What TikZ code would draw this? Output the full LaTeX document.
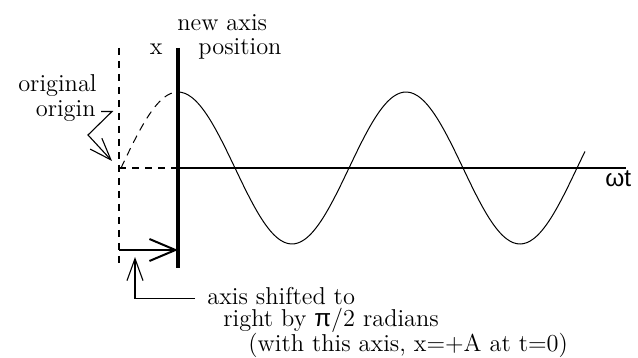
\documentclass[tikz,border=0pt]{standalone}
\usepackage{fontspec}
\usepackage{tikz}
\usetikzlibrary{arrows.meta,calc}
\newfontfamily\symfont{Liberation Sans}

\begin{document}
\begin{tikzpicture}[
  x=0.5pt,y=-0.5pt,
  lbl/.style={font=\fontsize{12.2}{14}\selectfont,inner sep=0pt},
  newaxis/.style={line width=2.3pt},
  oldaxis/.style={line width=0.6pt,dash pattern=on 3.5pt off 3pt},
  timeaxis/.style={line width=1.4pt},
  wave/.style={line width=0.5pt,domain=#1,samples=120,smooth},
  shiftarrow/.style={-{Straight Barb[length=13pt,width=11pt]},line width=1pt},
  callout/.style={-{Straight Barb[length=11pt,width=8pt]},line width=0.55pt}
]
\useasboundingbox (0,0) rectangle (638,358);

\coordinate (axtop) at (178,48);
\coordinate (axbot) at (178,268);
\coordinate (origO) at (178,168);
\coordinate (wtend) at (626,168);
\coordinate (oldtop) at (119,48);
\coordinate (oldbot) at (119,268);
\coordinate (oldO) at (119,168);
\coordinate (shiftfrom) at (119,250);
\coordinate (shiftto) at (178,250);
\coordinate (bendA) at (88,135);
\coordinate (tipA) at (112,161);
\coordinate (tipB) at (135,257);

\node[lbl,anchor=base west] (newaxis) at (177,31) {new axis};
\node[lbl,anchor=base west] (position) at (198,55) {position};
\node[lbl,anchor=base east] (xlbl) at (163,55) {x};
\node[lbl,anchor=base east] (original) at (97,92) {original};
\node[lbl,anchor=base east] (origin) at (96,117) {origin};
\node[lbl,anchor=base west] (wt) at (605,187) {\symfont ωt};
\node[lbl,anchor=base west] (shiftA) at (207,305) {axis shifted to};
\node[lbl,anchor=base west] (shiftB) at (223,327) {right by {\symfont π}/2 radians};
\node[lbl,anchor=base west] (shiftC) at (248,351) {(with this axis, x=+A at t=0)};

\draw[oldaxis] (oldtop) -- (oldbot);
\draw[oldaxis] (oldO) -- (origO);
\draw[timeaxis] (origO) -- (wtend);
\draw[newaxis] (axtop) -- (axbot);

\draw[wave=121:178,dash pattern=on 4pt off 3pt] plot (\x,{168-76*cos(1.578947*(\x-178))});
\draw[wave=178:585] plot (\x,{168-76*cos(1.578947*(\x-178))});

\draw[shiftarrow] (shiftfrom) -- (shiftto);
\draw[callout] ([xshift=2.5pt]origin.east) -- ++(11,0) -- (bendA) -- (tipA);
\draw[callout] ([xshift=-6pt,yshift=-1pt]shiftA.west) -| (tipB);
\end{tikzpicture}
\end{document}
